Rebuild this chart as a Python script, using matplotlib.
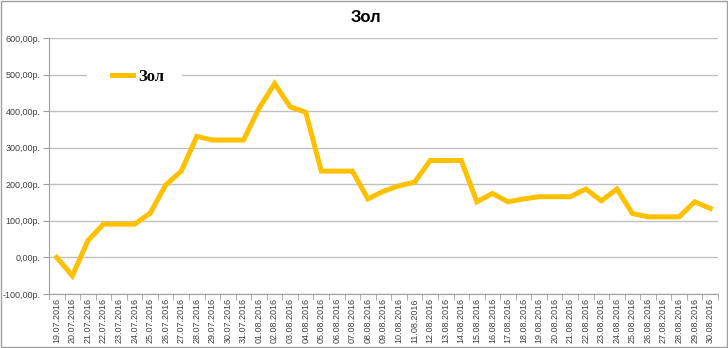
import numpy as np
import matplotlib
matplotlib.use('Agg')
import matplotlib.pyplot as plt
from matplotlib.patches import Rectangle
from matplotlib.ticker import FixedLocator, FuncFormatter

# данные
dates = ['19.07.2016', '20.07.2016', '21.07.2016', '22.07.2016', '23.07.2016',
         '24.07.2016', '25.07.2016', '26.07.2016', '27.07.2016', '28.07.2016',
         '29.07.2016', '30.07.2016', '31.07.2016', '01.08.2016', '02.08.2016',
         '03.08.2016', '04.08.2016', '05.08.2016', '06.08.2016', '07.08.2016',
         '08.08.2016', '09.08.2016', '10.08.2016', '11.08.2016', '12.08.2016',
         '13.08.2016', '14.08.2016', '15.08.2016', '16.08.2016', '17.08.2016',
         '18.08.2016', '19.08.2016', '20.08.2016', '21.08.2016', '22.08.2016',
         '23.08.2016', '24.08.2016', '25.08.2016', '26.08.2016', '27.08.2016',
         '28.08.2016', '29.08.2016', '30.08.2016']
zol = [0, -50, 46, 91, 91, 91, 121, 198, 236, 331,
       321, 321, 321, 408, 475, 412, 397, 236, 236, 236,
       160, 181, 196, 206, 265, 265, 265, 152, 175, 152,
       160, 166, 166, 166, 187, 155, 187, 120, 111, 111,
       111, 152, 134]
yticks = [-100, 0, 100, 200, 300, 400, 500, 600]

fig = plt.figure(figsize=(7.28, 3.48), dpi=100)
ax = fig.add_axes([49/728, 1-294/348, 669/728, 256/348])

x = np.arange(len(dates))
ax.plot(x, zol, color='#FFC000', lw=3.6, solid_joinstyle='miter', label='Зол', zorder=3)

ax.set_xlim(-0.5, len(dates) - 0.5)
ax.set_ylim(-100, 600)
ax.set_yticks(yticks)
ax.yaxis.set_major_formatter(FuncFormatter(lambda v, p: f'{v:.2f}р.'.replace('.', ',', 1)))
ax.set_xticks(x)
ax.set_xticklabels(dates, rotation=90, fontsize=6.5, color='#404040', family='Liberation Sans')
ax.xaxis.set_minor_locator(FixedLocator(np.arange(len(dates) + 1) - 0.5))
ax.tick_params(axis='x', which='major', length=0, pad=3)
ax.tick_params(axis='x', which='minor', length=4, color='#a0a0a0', direction='out')
ax.tick_params(axis='y', length=4, color='#a0a0a0', labelsize=6.5, labelcolor='#404040', pad=2)
for lab in ax.get_yticklabels():
    lab.set_family('Liberation Sans')

ax.grid(axis='y', color='#c0c0c0', lw=1)
ax.set_axisbelow(True)
for s in ['top', 'right']:
    ax.spines[s].set_visible(False)
for s in ['left', 'bottom']:
    ax.spines[s].set_color('#a0a0a0')

fig.text(0.503, 1-18/348, 'Зол', ha='center', va='center', fontsize=12,
         fontweight='bold', family='Liberation Sans')

# белая подложка легенды
ax.add_patch(Rectangle((87/728, 1-90/348), 95/728, 24/348, transform=fig.transFigure,
                       facecolor='white', edgecolor='none', zorder=1))
leg = ax.legend(loc='center left', bbox_to_anchor=(97/728, 1-77/348),
                bbox_transform=fig.transFigure, frameon=False, handlelength=1.25,
                handletextpad=0.35,
                prop={'family': 'Liberation Serif', 'weight': 'bold', 'size': 12})

fig.patches.append(Rectangle((0.001, 0.002), 0.997, 0.995, transform=fig.transFigure,
                             fill=False, edgecolor='#a0a0a0', lw=1))

fig.savefig('out.png', dpi=100)
